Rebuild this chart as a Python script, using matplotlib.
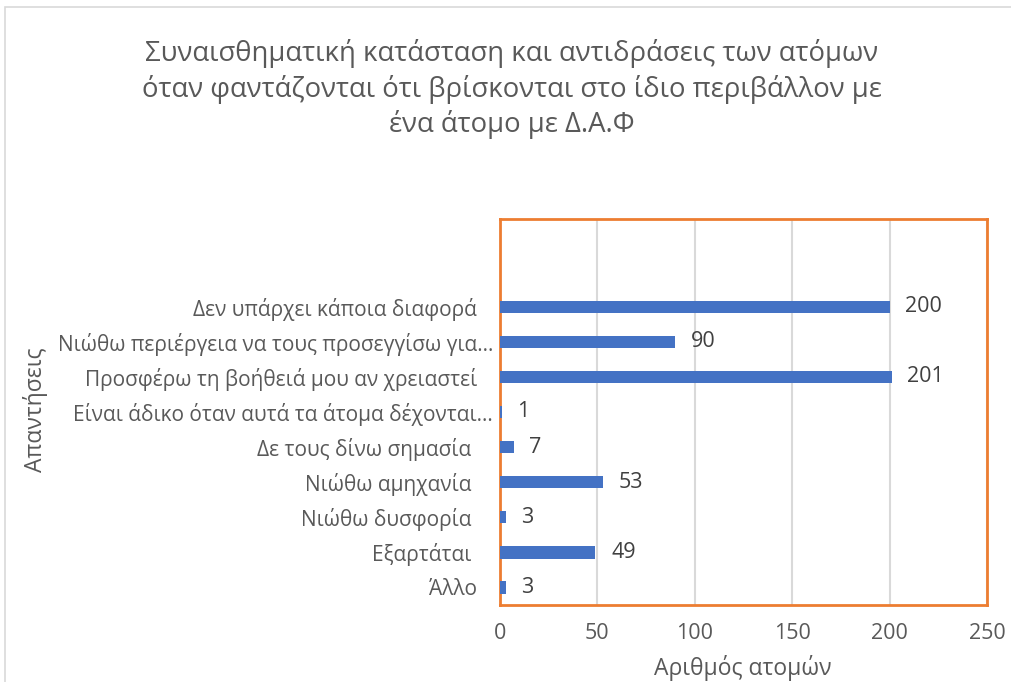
import matplotlib
matplotlib.use("Agg")
import matplotlib.pyplot as plt
from matplotlib.patches import Rectangle

categories = ["", "", "Δεν υπάρχει κάποια διαφορά   ",
              "Νιώθω περιέργεια να τους προσεγγίσω για…",
              "Προσφέρω τη βοήθειά μου αν χρειαστεί   ",
              "Είναι άδικο όταν αυτά τα άτομα δέχονται…",
              "Δε τους δίνω σημασία    ", "Νιώθω αμηχανία    ", "Νιώθω δυσφορία    ",
              "Εξαρτάται    ", "Άλλο   "]
values = [None, None, 200, 90, 201, 1, 7, 53, 3, 49, 3]
xticks = [0, 50, 100, 150, 200, 250]
title = "Συναισθηματική κατάσταση και αντιδράσεις των ατόμων\nόταν φαντάζονται ότι βρίσκονται στο ίδιο περιβάλλον με\nένα άτομο με Δ.Α.Φ"

plt.rcParams['font.family'] = ['Open Sans', 'DejaVu Sans']
txt = '#595959'

fig = plt.figure(figsize=(10.11, 6.82), dpi=100)
W, H = 1011, 682
ax = fig.add_axes([500 / W, 1 - 605 / H, (987 - 500) / W, (605 - 219) / H])

n = len(categories)
ypos = list(range(n))
for y, v in zip(ypos, values):
    if v is None:
        continue
    ax.barh(y, v, height=0.35, color='#4472C4', zorder=3)
    ax.text(v + 8, y, str(v), va='center', ha='left', fontsize=15.5, color='#404040')

ax.set_ylim(n - 0.5, -0.5)
ax.set_xlim(0, 250)
ax.set_yticks(ypos)
ax.set_yticklabels(categories, fontsize=15, color=txt)
ax.set_xticks(xticks)
ax.set_xticklabels([str(t) for t in xticks], fontsize=15.5, color=txt)
ax.tick_params(axis='x', length=0, pad=13)
ax.tick_params(axis='y', length=0, pad=5)
ax.grid(axis='x', color='#D9D9D9', linewidth=1.5, zorder=0)
for s in ax.spines.values():
    s.set_color('#ED7D31')
    s.set_linewidth(2)

fig.text(35 / W, 1 - 410 / H, "Απαντήσεις", rotation=90, ha='center', va='center',
         fontsize=16.5, color=txt)
fig.text(743 / W, 1 - 668 / H, "Αριθμός ατομών", ha='center', va='center',
         fontsize=16.5, color=txt)
fig.text(512 / W, 1 - 89 / H, title, ha='center', va='center', fontsize=19.8,
         color=txt, linespacing=1.3)

fig.patches.append(Rectangle((5 / W, -0.1), 1.2, (H - 7) / H + 0.1,
                             transform=fig.transFigure, fill=False,
                             edgecolor='#D9D9D9', linewidth=1.2))

fig.savefig("out.png", dpi=100)
